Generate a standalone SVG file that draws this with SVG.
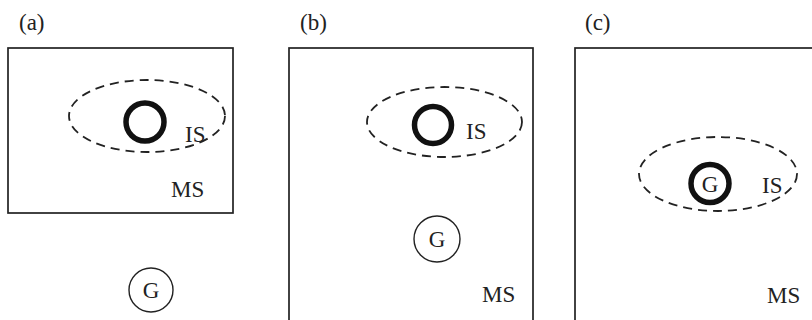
<svg xmlns="http://www.w3.org/2000/svg" width="812" height="320" viewBox="0 0 812 320">
<style>
text{font-family:"Liberation Serif","Times New Roman",serif;font-size:23px;fill:#222}
.box{fill:none;stroke:#222;stroke-width:1.7}
.is{fill:none;stroke:#222;stroke-width:1.8;stroke-dasharray:9,6}
.core{fill:none;stroke:#111;stroke-width:5.5}
.g{fill:none;stroke:#222;stroke-width:1.4}
</style>
<rect width="812" height="320" fill="#fff"/>
<g id="panel-a">
<text x="19" y="30">(a)</text>
<rect class="box" x="8" y="48" width="225" height="165"/>
<g id="a-is"><ellipse class="is" cx="147" cy="116" rx="78" ry="36"/><text x="185" y="142">IS</text></g>
<g id="a-core"><circle class="core" cx="145" cy="122" r="19"/></g>
<g id="a-ms"><text x="171" y="197">MS</text></g>
<g id="a-g"><circle class="g" cx="151" cy="290" r="22"/><text x="151" y="298" text-anchor="middle">G</text></g>
</g>
<g id="panel-b">
<text x="300" y="30">(b)</text>
<rect class="box" x="289" y="48" width="244" height="280"/>
<g id="b-is"><ellipse class="is" cx="444.5" cy="122" rx="77.5" ry="35"/><text x="466" y="139">IS</text></g>
<g id="b-core"><circle class="core" cx="433" cy="125" r="18.5"/></g>
<g id="b-g"><circle class="g" cx="437" cy="239" r="23"/><text x="437" y="247" text-anchor="middle">G</text></g>
<g id="b-ms"><text x="482" y="302">MS</text></g>
</g>
<g id="panel-c">
<text x="585" y="30">(c)</text>
<rect class="box" x="575" y="48" width="250" height="280"/>
<g id="c-is"><ellipse class="is" cx="718" cy="174" rx="79" ry="37"/><text x="762" y="193">IS</text></g>
<g id="c-g"><circle class="core" cx="710" cy="183.5" r="19"/><text x="710" y="191.5" text-anchor="middle">G</text></g>
<g id="c-ms"><text x="767" y="303">MS</text></g>
</g>
<g id="connectors"></g>
</svg>
